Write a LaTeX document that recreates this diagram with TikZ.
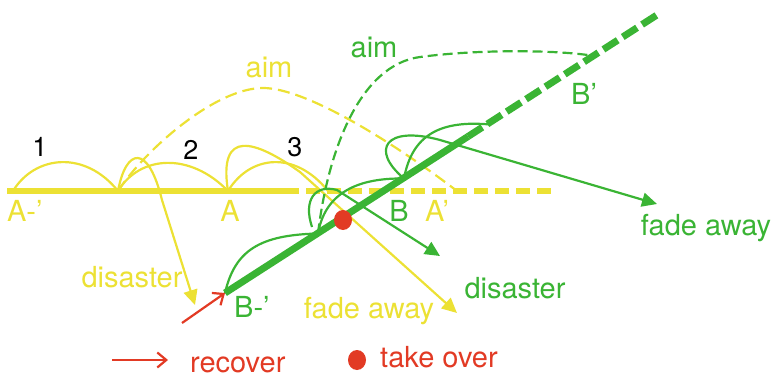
\documentclass[tikz,border=0pt]{standalone}
\usepackage{fontspec}
\setmainfont{TeX Gyre Heros}
\usetikzlibrary{arrows.meta}
\definecolor{cY}{RGB}{236,225,52}
\definecolor{cG}{RGB}{58,180,52}
\definecolor{cR}{RGB}{226,58,36}
\begin{document}
\begin{tikzpicture}[x=1pt,y=-1pt,
  ythin/.style={draw=cY, line width=2.2pt},
  gthin/.style={draw=cG, line width=2.2pt},
  yarr/.style={-{Triangle[length=15pt,width=14pt]}},
  rarr/.style={draw=cR, line width=2.2pt, -{Straight Barb[length=9pt,width=15pt]}},
  lbl/.style={font=\fontsize{29}{31}\selectfont, inner sep=0pt, anchor=base},
  num/.style={font=\fontsize{27}{30}\selectfont, inner sep=0pt, anchor=base, text=black}]
\useasboundingbox (0,0) rectangle (777,377);
% key points
\coordinate (Ast) at (7,191);
\coordinate (Asolid) at (285,191);
\coordinate (Aend) at (558,191);
\coordinate (Bm) at (225,293);
\coordinate (Bsolid) at (468,136.5);
\coordinate (Bend) at (660,13);
\coordinate (h0) at (13,191);
\coordinate (h1) at (118,191);
\coordinate (h2) at (228,191);
\coordinate (h3) at (328,191);
\coordinate (yaimTop) at (263,88);
\coordinate (yaimEnd) at (457,191);
\coordinate (ydisBend) at (162,200);
\coordinate (ydisTip) at (195,305);
\coordinate (yfadeBend) at (300,172);
\coordinate (yfadeTip) at (457,313);
\coordinate (g1) at (318,233.5);
\coordinate (g2) at (404,178.5);
\coordinate (g3) at (490,124.5);
\coordinate (gaimMid) at (420,57);
\coordinate (gaimEnd) at (594,56);
\coordinate (gloop) at (312,227);
\coordinate (gdisBend) at (337,190);
\coordinate (gdisTip) at (440,256);
\coordinate (gfadeBend) at (440,140);
\coordinate (gfadeTip) at (657,204);
\coordinate (rst) at (182,323);
\coordinate (legA) at (112,360);
\coordinate (legB) at (168,360);
% yellow track
\draw[cY, line width=6pt] (Ast) -- (Asolid);
\draw[cY, line width=6pt, dash pattern=on 14pt off 7pt] (Asolid) -- (Aend);
% yellow hops
\draw[ythin] (h0) .. controls (35,155) and (85,150) .. (h1);
\draw[ythin] (h1) .. controls (140,155) and (190,152) .. (h2);
\draw[ythin] (h2) .. controls (250,155) and (295,150) .. (h3);
\draw[ythin, yarr] (h1) .. controls (126,148) and (148,143) .. (ydisBend) -- (ydisTip);
\draw[ythin, yarr] (h2) .. controls (218,128) and (255,140) .. (yfadeBend) -- (yfadeTip);
\draw[ythin, dash pattern=on 12pt off 6pt] (h1) .. controls (145,150) and (215,88) .. (yaimTop)
  .. controls (305,88) and (390,140) .. (yaimEnd);
% green track
\draw[cG, line width=7pt] (Bm) -- (Bsolid);
\draw[cG, line width=7pt, dash pattern=on 17pt off 6pt] (Bsolid) -- (Bend);
% green hops
\draw[gthin] (Bm) .. controls (235,250) and (260,235) .. (g1);
\draw[gthin] (g1) .. controls (326,188) and (365,178) .. (g2);
\draw[gthin] (g2) .. controls (412,135) and (440,120) .. (g3);
\draw[gthin, yarr] (gloop) .. controls (303,200) and (315,184) .. (gdisBend) -- (gdisTip);
\draw[gthin, yarr] (g2) .. controls (370,150) and (385,125) .. (gfadeBend) -- (gfadeTip);
\draw[gthin, dash pattern=on 10pt off 5pt] (g1) .. controls (328,150) and (360,65) .. (gaimMid)
  .. controls (480,49) and (560,50) .. (gaimEnd);
% red
\draw[rarr] (rst) -- (Bm);
\fill[cR] (343,220) ellipse [x radius=9, y radius=10];
\draw[rarr] (legA) -- (legB);
\fill[cR] (357,360) ellipse [x radius=9, y radius=10];
% labels
\node[num] (n1) at (40,157) {1};
\node[num] (n2) at (191,160) {2};
\node[num] (n3) at (295,157) {3};
\node[lbl, text=cY, anchor=base west] (lAm) at (7,222) {A-’};
\node[lbl, text=cY] (lA) at (230,222) {A};
\node[lbl, text=cG] (lB) at (399,222) {B};
\node[lbl, text=cY, anchor=base west] (lAp) at (425,222) {A’};
\node[lbl, text=cG, anchor=base west] (lBp) at (571,105) {B’};
\node[lbl, text=cG, anchor=base west] (lBm) at (234,317) {B-’};
\node[lbl, text=cY] (yaim) at (269,78) {aim};
\node[lbl, text=cG] (gaim) at (374,58) {aim};
\node[lbl, text=cY] (ydis) at (132,287) {disaster};
\node[lbl, text=cY] (yfade) at (369,318) {fade away};
\node[lbl, text=cG] (gdis) at (515,298) {disaster};
\node[lbl, text=cG] (gfade) at (706,236) {fade away};
\node[lbl, text=cR, anchor=base west] (lrec) at (190,372) {recover};
\node[lbl, text=cR, anchor=base west] (ltake) at (380,367) {take over};
\end{tikzpicture}
\end{document}
